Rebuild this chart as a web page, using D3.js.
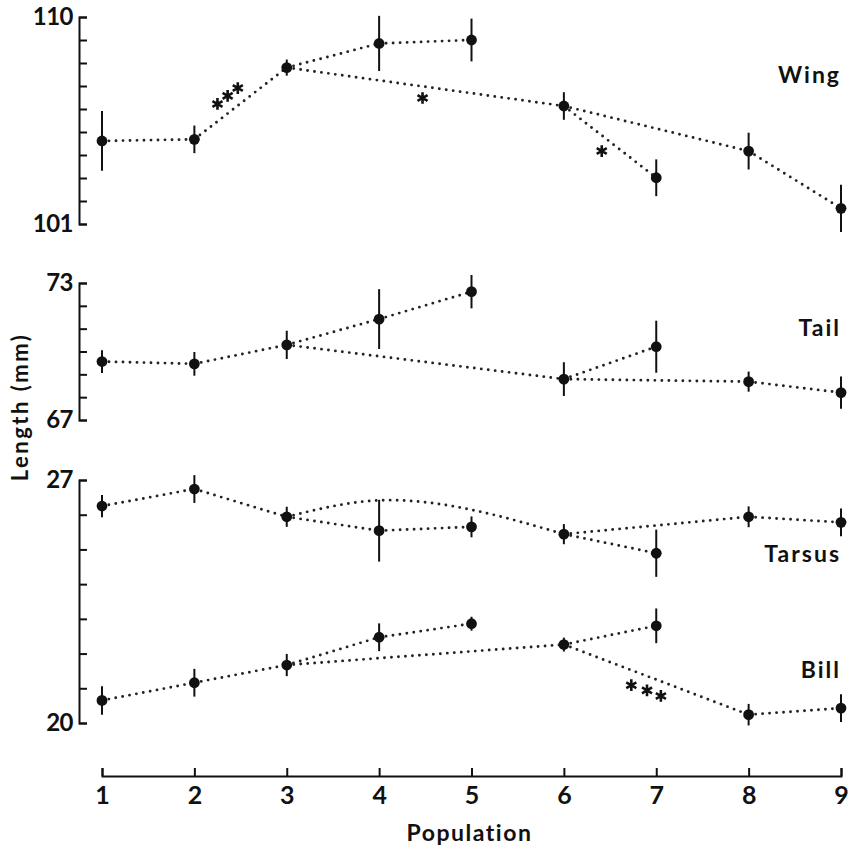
<!DOCTYPE html>
<html lang="en">
<head>
<meta charset="utf-8">
<script src="https://cdn.jsdelivr.net/npm/d3@7"></script>
<style>
  body { margin: 0; background: #fff; }
  text { font-family: Lato, "DejaVu Sans", sans-serif; font-weight: 700; fill: #111; }
</style>
</head>
<body>
<div id="chart"></div>
<script>
// populations on the x axis
var populations = [1, 2, 3, 4, 5, 6, 7, 8, 9];

// means and error bar half-lengths (mm)
var wingMean   = [104.61, 104.68, 107.80, 108.85, 109.00, 106.13, 103.01, 104.17, 101.68];
var wingErr    = [1.30, 0.60, 0.35, 1.20, 0.93, 0.60, 0.80, 0.80, 1.03];
var tailMean   = [69.56, 69.46, 70.29, 71.42, 72.62, 68.79, 70.21, 68.68, 68.20];
var tailErr    = [0.50, 0.52, 0.62, 1.31, 0.73, 0.74, 1.14, 0.44, 0.71];
var tarsusMean = [26.25, 26.74, 25.94, 25.54, 25.65, 25.44, 24.89, 25.94, 25.78];
var tarsusErr  = [0.32, 0.40, 0.29, 0.89, 0.30, 0.29, 0.68, 0.30, 0.40];
var billMean   = [20.65, 21.16, 21.67, 22.47, 22.86, 22.26, 22.80, 20.24, 20.43];
var billErr    = [0.41, 0.40, 0.32, 0.40, 0.20, 0.20, 0.50, 0.31, 0.40];

// which populations are joined by dotted lines
var links = [[1,2],[2,3],[3,4],[4,5],[3,6],[6,7],[6,8],[8,9]];

// tarsus 3-6 line bows upward past population 4
var tarsusBend = [4.1, 26.42];

// y axis ranges
var wingTicks = d3.range(101, 111);
var tailTicks = d3.range(67, 74);
var tbTicks   = d3.range(20, 28);

// significance stars [population, value]
var wingStars = [[2.25, 106.22], [2.36, 106.57], [2.47, 106.91], [4.47, 106.48], [6.41, 104.17]];
var billStars = [[6.73, 21.09], [6.90, 20.94], [7.05, 20.78]];

var w = 852, h = 848;

var svg = d3.select("#chart").append("svg")
  .attr("width", w)
  .attr("height", h);

var x = d3.scaleLinear().domain([1, 9]).range([102, 841]);

var yWing = d3.scaleLinear().domain([101, 110]).range([224, 17]);
var yTail = d3.scaleLinear().domain([67, 73]).range([420, 283]);
var yTB   = d3.scaleLinear().domain([20, 27]).range([723, 480]);

var axisX = 79;

// y axes: bracket shaped, ticks pointing inward, only end labels
function drawYAxis(scale, ticks) {
  var lo = ticks[0], hi = ticks[ticks.length - 1];
  var g = svg.append("g")
    .attr("transform", "translate(" + axisX + ",0)")
    .call(d3.axisLeft(scale)
      .tickValues(ticks)
      .tickSizeInner(-8)
      .tickSizeOuter(-8)
      .tickPadding(6)
      .tickFormat(d => (d === lo || d === hi) ? d : ""));
  g.select(".domain").attr("stroke", "#111").attr("stroke-width", 2);
  g.selectAll(".tick line").attr("stroke", "#111").attr("stroke-width", 2);
  g.selectAll(".tick text").style("font-size", "24px").style("letter-spacing", "-0.5px").attr("fill", "#111");
}
drawYAxis(yWing, wingTicks);
drawYAxis(yTail, tailTicks);
drawYAxis(yTB, tbTicks);

// x axis
var gx = svg.append("g")
  .attr("transform", "translate(0,776)")
  .call(d3.axisBottom(x)
    .tickValues(populations)
    .tickSizeInner(-8)
    .tickSizeOuter(-8)
    .tickPadding(10)
    .tickFormat(d3.format("d")));
gx.select(".domain").attr("stroke", "#111").attr("stroke-width", 2);
gx.selectAll(".tick line").attr("stroke", "#111").attr("stroke-width", 2);
gx.selectAll(".tick text").style("font-size", "25px").attr("fill", "#111");

svg.append("text")
  .attr("x", x(5) - 2)
  .attr("y", 841)
  .attr("text-anchor", "middle")
  .style("font-size", "23px")
  .style("letter-spacing", "1.5px")
  .text("Population");

svg.append("text")
  .attr("transform", "translate(28,407) rotate(-90)")
  .attr("text-anchor", "middle")
  .style("font-size", "22px")
  .style("letter-spacing", "2.5px")
  .text("Length (mm)");

var series = [
  {label: "Wing",   mean: wingMean,   err: wingErr,   y: yWing, labelAt: 107.5},
  {label: "Tail",   mean: tailMean,   err: tailErr,   y: yTail, labelAt: 71.03},
  {label: "Tarsus", mean: tarsusMean, err: tarsusErr, y: yTB,   labelAt: 24.87, bend: tarsusBend},
  {label: "Bill",   mean: billMean,   err: billErr,   y: yTB,   labelAt: 21.52}
];

series.forEach(function(s) {
  var g = svg.append("g");
  var line = d3.line().x(d => x(d[0])).y(d => s.y(d[1]));

  // dotted connections
  links.forEach(function(l) {
    var pts = [[l[0], s.mean[l[0]-1]], [l[1], s.mean[l[1]-1]]];
    var gen = line;
    if (s.bend && l[0] === 3 && l[1] === 6) {
      pts.splice(1, 0, s.bend);
      gen = d3.line().x(d => x(d[0])).y(d => s.y(d[1])).curve(d3.curveMonotoneX);
    }
    g.append("path")
      .attr("d", gen(pts))
      .attr("fill", "none")
      .attr("stroke", "#222")
      .attr("stroke-width", 2.9)
      .attr("stroke-linecap", "round")
      .attr("stroke-dasharray", "0,7");
  });

  // error bars
  g.selectAll(".err")
    .data(populations)
    .enter().append("line")
    .attr("x1", d => x(d)).attr("x2", d => x(d))
    .attr("y1", (d, i) => s.y(s.mean[i] - s.err[i]))
    .attr("y2", (d, i) => s.y(s.mean[i] + s.err[i]))
    .attr("stroke", "#111")
    .attr("stroke-width", 2);

  // means
  g.selectAll("circle")
    .data(populations)
    .enter().append("circle")
    .attr("cx", d => x(d))
    .attr("cy", (d, i) => s.y(s.mean[i]))
    .attr("r", 5.4)
    .attr("fill", "#111");

  g.append("text")
    .attr("x", x(9))
    .attr("y", s.y(s.labelAt))
    .attr("dy", "0.35em")
    .attr("text-anchor", "end")
    .style("font-size", "23px")
    .style("letter-spacing", "2px")
    .text(s.label);
});

// asterisks
var star = d3.symbol().type(d3.symbolAsterisk).size(95);
function drawStars(list, scale) {
  svg.append("g").selectAll("path")
    .data(list)
    .enter().append("path")
    .attr("d", star)
    .attr("transform", d => "translate(" + x(d[0]) + "," + scale(d[1]) + ")")
    .attr("stroke", "#111")
    .attr("stroke-width", 2.6);
}
drawStars(wingStars, yWing);
drawStars(billStars, yTB);
</script>
</body>
</html>
